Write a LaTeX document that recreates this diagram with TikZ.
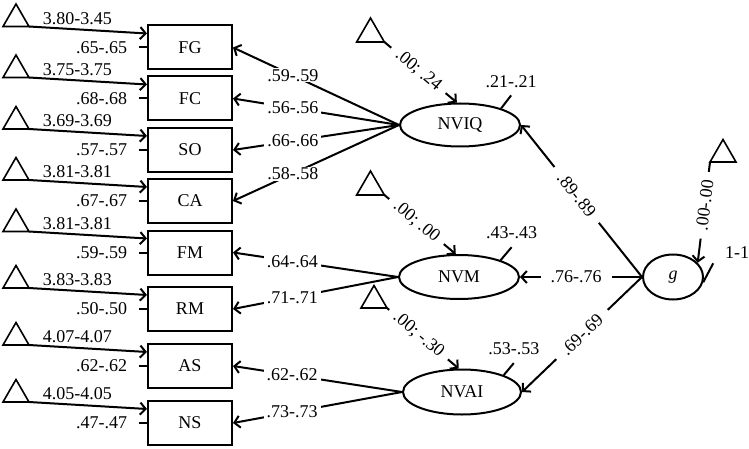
\documentclass[tikz,border=0pt]{standalone}
\usepackage{fontspec}
\setmainfont{Liberation Serif}
\usetikzlibrary{arrows.meta,shapes.geometric,calc,positioning}
\begin{document}
\begin{tikzpicture}[x=1pt,y=-1pt,
  font=\fontsize{18}{21}\selectfont,
  line width=2pt,
  obs/.style={draw, rectangle, minimum width=84pt, minimum height=44pt, inner sep=0pt},
  lat/.style={draw, ellipse, inner sep=0pt},
  tri/.style={draw, regular polygon, regular polygon sides=3, minimum size=30pt, inner sep=0pt, outer sep=0pt, line width=1.6pt},
  arr/.style={-{Straight Barb[length=5.5pt,width=12pt]}},
  lbl/.style={fill=white, inner ysep=1pt, inner xsep=3pt},
  lblg/.style={fill=white, inner ysep=1pt, inner xsep=10pt},
  lblm/.style={fill=white, inner ysep=1pt, inner xsep=8pt},
  txt/.style={inner sep=1pt}
]
\useasboundingbox (0,0) rectangle (749,449);

% observed variables
\node[obs] (FG) at (190,47.5) {FG};
\node[obs] (FC) at (190,98.5) {FC};
\node[obs] (SO) at (190,150) {SO};
\node[obs] (CA) at (190,201) {CA};
\node[obs] (FM) at (190,252.5) {FM};
\node[obs] (RM) at (190,309) {RM};
\node[obs] (AS) at (190,366) {AS};
\node[obs] (NS) at (190,423) {NS};

% latent variables
\node[lat, minimum width=120pt, minimum height=43pt] (NVIQ) at (460,125) {NVIQ};
\node[lat, minimum width=120pt, minimum height=44pt] (NVM) at (459,277) {NVM};
\node[lat, minimum width=118pt, minimum height=45pt] (NVAI) at (462,392) {NVAI};
\node[lat, minimum width=60pt, minimum height=45pt] (g) at (673,277) {\itshape g};

% mean triangles for observed variables
\node[tri] (tFG) at (16,19) {};
\node[tri] (tFC) at (16,70) {};
\node[tri] (tSO) at (16,121.5) {};
\node[tri] (tCA) at (16,172.5) {};
\node[tri] (tFM) at (16,224) {};
\node[tri] (tRM) at (16,280.5) {};
\node[tri] (tAS) at (16,337.5) {};
\node[tri] (tNS) at (16,394.5) {};

\foreach \v/\m/\r in {FG/3.80-3.45/.65-.65, FC/3.75-3.75/.68-.68, SO/3.69-3.69/.57-.57,
                      CA/3.81-3.81/.67-.67, FM/3.81-3.81/.59-.59, RM/3.83-3.83/.50-.50,
                      AS/4.07-4.07/.62-.62, NS/4.05-4.05/.47-.47}{
  \draw[arr] (t\v.corner 3) -- node[txt, pos=0.41, above=3pt] {\m} ($(\v.west)+(0,-14)$);
  \draw (\v.west) -- ++(-8,0) node[txt, left=10pt] {\r};
}

% loadings
\draw[arr] (NVIQ.west) -- node[lbl, pos=0.64] {.59-.59} (FG.east);
\draw[arr] (NVIQ.west) -- node[lbl, pos=0.64] {.56-.56} (FC.east);
\draw[arr] (NVIQ.west) -- node[lbl, pos=0.64] {.66-.66} (SO.east);
\draw[arr] (NVIQ.west) -- node[lbl, pos=0.64] {.58-.58} (CA.east);
\draw[arr] (NVM.west) -- node[lbl, pos=0.64] {.64-.64} (FM.east);
\draw[arr] (NVM.west) -- node[lbl, pos=0.64] {.71-.71} (RM.east);
\draw[arr] (NVAI.west) -- node[lbl, pos=0.65] {.62-.62} (AS.east);
\draw[arr] (NVAI.west) -- node[lbl, pos=0.65] {.73-.73} (NS.east);

% second-order loadings
\draw[arr] (g.west) -- node[lblg, sloped, pos=0.54] {.89-.89} (NVIQ.east);
\draw[arr] (g.west) -- node[lblg, pos=0.54] {.76-.76} (NVM.east);
\draw[arr] (g.west) -- node[lblg, sloped, pos=0.5] {.69-.69} (NVAI.east);

% latent means
\node[tri, minimum size=32pt] (tNVIQ) at (370.5,34) {};
\node[tri, minimum size=32pt] (tNVM) at (370.5,187) {};
\node[tri] (tNVAI) at (374,300.5) {};
\node[tri] (tg) at (723,154.5) {};
\draw[arr] (tNVIQ.corner 3) -- node[lblm, sloped, pos=0.47] {.00; .24} (NVIQ.98);
\draw[arr] (tNVM.corner 3) -- node[lblm, sloped, pos=0.45] {.00; .00} (NVM.98);
\draw[arr] (tNVAI.corner 3) -- node[lblm, sloped, pos=0.44] {.00; -.30} (NVAI.98);
\draw[arr] (tg.corner 2) -- node[lblm, sloped, pos=0.43] {.00-.00} (g.30);

% latent variances
\draw (NVIQ.22) -- ++(10,-13) node[txt, above=6pt] {.21-.21};
\draw (NVM.22) -- ++(11,-13) node[txt, above=6pt] {.43-.43};
\draw (NVAI.22) -- ++(10,-12) node[txt, above=6pt] {.53-.53};
\draw (g.-10) -- ++(10,-19) node[txt, above right=3pt and 10pt] {1-1};
\end{tikzpicture}
\end{document}
